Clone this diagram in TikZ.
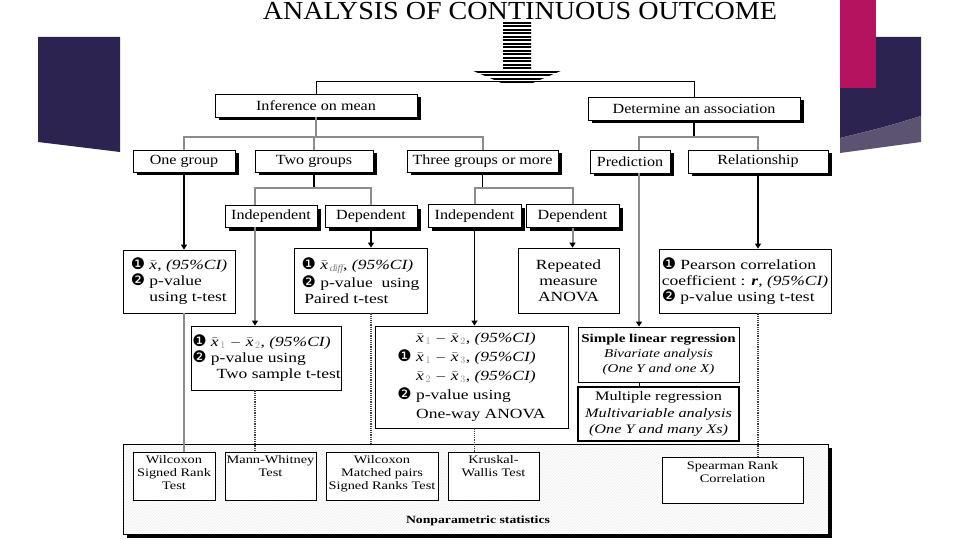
\documentclass[tikz,border=0pt]{standalone}
\usepackage{fontspec}
\setmainfont{Liberation Serif}[FakeStretch=1.25]
\newfontfamily\lblfamily{Liberation Serif}[FakeStretch=1.15]
\newfontfamily\titlefamily{Liberation Serif}[FakeStretch=1.08]
\newfontfamily\dingfamily{DejaVu Sans}
\usepackage{xcolor}
\usetikzlibrary{arrows.meta,positioning,shadows,patterns}

\definecolor{slidedark}{RGB}{45,35,80}
\definecolor{slidemag}{RGB}{181,19,95}
\definecolor{slidelight}{RGB}{92,82,114}

\newcommand\dingA{{\dingfamily\fontsize{16}{16}\selectfont\char"2776}}
\newcommand\dingB{{\dingfamily\fontsize{16}{16}\selectfont\char"2777}}
\newcommand\dind{\hphantom{\dingB\ }}
\newcommand\xb{\ensuremath{\bar{\mbox{\textit{x}}}}}
\newcommand\gsub[1]{\ensuremath{\mkern2mu_{\textcolor{black!45}{#1}}}}
\newcommand\ci{\textit{(95\%CI)}}

\begin{document}
\begin{tikzpicture}[
    x=1pt, y=-1pt,
    lbl/.style={draw, line width=0.8pt, fill=white, inner sep=0pt,
      font=\lblfamily\fontsize{14}{16}\selectfont,
      drop shadow={shadow xshift=3.5pt, shadow yshift=-3.5pt, fill=black, opacity=1}},
    res/.style={draw, line width=0.8pt, fill=white, inner sep=1pt, align=left,
      font=\fontsize{14}{16}\selectfont},
    nbox/.style={draw, line width=0.8pt, fill=white, inner sep=0pt},
    ntext/.style={align=center, inner sep=0pt, font=\fontsize{11.5}{13}\selectfont},
    gline/.style={draw=black!45, line width=2pt},
    bline/.style={draw=black, line width=1.2pt},
    dline/.style={draw=black!75, line width=1.2pt, densely dotted},
    endtip/.style={-{Triangle[width=6pt,length=5pt,color=black]}},
  ]
  \def\stripe{1.8}
  \useasboundingbox (0,0) rectangle (960,540);
  \fill[white] (0,0) rectangle (960,540);

  % ========= SLIDE DECORATION =========
  \fill[slidedark] (38,37) -- (120,37) -- (120,152) -- (38,142) -- cycle;
  \fill[slidedark] (840,37) -- (921,37) -- (921,116) .. controls (885,127) .. (840,138) -- cycle;
  \fill[slidelight] (840,138) .. controls (885,127) .. (921,116) -- (921,142) -- (840,153) -- cycle;
  \fill[slidemag] (840,0) rectangle (876,88);

  % ========= TITLE =========
  \node[font=\titlefamily\fontsize{26}{28}\selectfont, inner sep=0pt] (title) at (520,11.5)
    {ANALYSIS OF CONTINUOUS OUTCOME};

  % ========= LEVEL 1 / 2 =========
  \node[lbl, minimum width=202pt, minimum height=23pt] (inf) at (316,105.5) {Inference on mean};
  \node[lbl, minimum width=212pt, minimum height=23pt] (det) at (694,108.5) {Determine an association};

  \node[lbl, minimum width=102pt, minimum height=22pt] (one) at (184,161) {One group};
  \node[lbl, minimum width=118pt, minimum height=22pt] (two) at (314,161) {Two groups};
  \node[lbl, minimum width=151pt, minimum height=22pt] (three) at (482.5,161) {Three groups or more};
  \node[lbl, minimum width=80pt, minimum height=23pt] (pred) at (630,161.5) {Prediction};
  \node[lbl, minimum width=140pt, minimum height=23pt] (rel) at (758,161.5) {Relationship};

  \node[lbl, minimum width=92pt, minimum height=22pt] (ind2) at (271,216) {Independent};
  \node[lbl, minimum width=92pt, minimum height=22pt] (dep2) at (371,216) {Dependent};
  \node[lbl, minimum width=93pt, minimum height=23pt] (ind3) at (474.5,216) {Independent};
  \node[lbl, minimum width=93pt, minimum height=23pt] (dep3) at (572.5,216) {Dependent};

  % ========= RESULTS =========
  \node[res, minimum width=112pt, minimum height=63pt] (r1) at (179,281.5)
    {\dingA\ \xb, \ci\\\dingB\ p-value\\\dind using t-test};
  \node[res, minimum width=133pt, minimum height=65pt] (r3) at (360.5,280.5)
    {\dingA\ \xb\gsub{\mathit{diff}}, \ci\\[1pt]\dingB\ p-value\ \ using\\\hspace*{0.2em}Paired t-test};
  \node[res, align=center, minimum width=101pt, minimum height=65pt] (r5) at (568.5,280.5)
    {Repeated\\measure\\ANOVA};
  \node[res, minimum width=172pt, minimum height=64pt] (r6) at (745,281)
    {\dingA\ Pearson correlation\\coefficient : \textbf{\textit{r}}, \ci\\\dingB\ p-value using t-test};
  \node[res, minimum width=147pt, minimum height=64pt] (r2) at (266.5,358)
    {\dingA\ \xb\gsub{1} $-$ \xb\gsub{2}, \ci\\\dingB\ p-value using\\\dind\hspace*{0.4em}Two sample t-test};
  \node[res, font=\fontsize{14}{19}\selectfont, minimum width=193pt, minimum height=102pt] (r4) at (471.5,377)
    {\dind\xb\gsub{1} $-$ \xb\gsub{2}, \ci\\\dingA\ \xb\gsub{1} $-$ \xb\gsub{3}, \ci\\
     \dind\xb\gsub{2} $-$ \xb\gsub{3}, \ci\\\dingB\ p-value using\\\dind One-way ANOVA};

  \node[res, align=center, font=\fontsize{12}{15}\selectfont, minimum width=161pt, minimum height=55pt] (slr) at (658.5,354.5)
    {\textbf{Simple linear regression}\\\textit{Bivariate analysis}\\\textit{(One Y and one X)}};
  \node[res, align=center, line width=1.5pt, font=\fontsize{13}{16.5}\selectfont, minimum width=161pt, minimum height=54pt] (mreg) at (658.5,414)
    {Multiple regression\\\textit{Multivariable analysis}\\\textit{(One Y and many Xs)}};

  % ========= NONPARAMETRIC =========
  \node[draw, line width=0.8pt, minimum width=705pt, minimum height=90pt,
    drop shadow={shadow xshift=4pt, shadow yshift=-4pt, fill=black, opacity=1},
    preaction={fill=white}, pattern=north east lines, pattern color=black!8] (np) at (475.5,489) {};
  \node[font=\bfseries\fontsize{11}{13}\selectfont] (nplbl) at (478,521) {Nonparametric statistics};

  \node[nbox, minimum width=82pt, minimum height=48pt] (w1) at (174,476) {};
  \node[ntext, below=4pt of w1.north] (w1t) {Wilcoxon\\Signed Rank\\Test};
  \node[nbox, minimum width=91pt, minimum height=48pt] (mw) at (270.5,476) {};
  \node[ntext, below=4pt of mw.north] (mwt) {Mann-Whitney\\Test};
  \node[nbox, minimum width=112pt, minimum height=48pt] (w2) at (382,476) {};
  \node[ntext, below=4pt of w2.north] (w2t) {Wilcoxon\\Matched pairs\\Signed Ranks Test};
  \node[nbox, minimum width=91pt, minimum height=48pt] (kw) at (493.5,476) {};
  \node[ntext, below=4pt of kw.north] (kwt) {Kruskal-\\Wallis Test};
  \node[nbox, minimum width=141pt, minimum height=46pt] (sp) at (732.5,480) {};
  \node[ntext, below=5pt of sp.north] (spt) {Spearman Rank\\Correlation};

  % ========= CONNECTORS =========
  % Top bar
  \draw[bline, line width=1pt] (inf.north) -- ++(0,-12) -| (det.north);

  % Inference on mean
  \draw[gline] (inf.south) -- ++(0,20) coordinate (jinf);
  \draw[gline] (one.north) |- (jinf) -| (three.north);
  \draw[gline] (two.north) -- (two.north |- jinf);

  \draw[bline] (two.south) -- ++(0,16) coordinate (jtwo);
  \draw[gline] ([xshift=-16pt]ind2.north) |- (jtwo) -| (dep2.north);
  \draw[bline] (three.south) -- ++(0,16) coordinate (jthree);
  \draw[gline] (ind3.north) |- (jthree) -| (dep3.north);

  % Determine an association
  \draw[bline] (det.south) -- ++(0,17) coordinate (jdet);
  \draw[gline] ([xshift=9pt]pred.north) |- (jdet) -| (rel.north);

  % Down to results
  \draw[bline, endtip] (one.south) -- (one.south |- r1.north);
  \draw[gline, endtip] ([xshift=-16pt]ind2.south) -- ([xshift=-16pt]ind2.south |- r2.north);
  \draw[bline, endtip] (dep2.south) -- (dep2.south |- r3.north);
  \draw[bline, line width=1.8pt, endtip] (ind3.south) -- (ind3.south |- r4.north);
  \draw[gline, endtip] (dep3.south) -- (dep3.south |- r5.north);
  \draw[gline, endtip] ([xshift=9pt]pred.south) -- ([xshift=9pt]pred.south |- slr.north);
  \draw[bline, endtip] (rel.south) -- (rel.south |- r6.north);
  \draw[bline, line width=0.6pt] ([xshift=9pt]pred.south |- slr.south) -- ([xshift=9pt]pred.south |- mreg.north);

  % Down to nonparametric
  \draw[gline] (one.south |- r1.south) -- (one.south |- w1.north);
  \draw[dline] ([xshift=-16pt]ind2.south |- r2.south) -- ([xshift=-16pt]ind2.south |- mw.north);
  \draw[dline] (dep2.south |- r3.south) -- (dep2.south |- np.north);
  \draw[dline] (ind3.south |- r4.south) -- (ind3.south |- kw.north);
  \draw[dline] (rel.south |- r6.south) -- (rel.south |- sp.north);

  % Hatched arrow
  \begin{scope}
    \clip (503,22) rectangle (531,70) (471,70) -- (563,70) -- (528,85) -- (506,85) -- cycle;
    \foreach \y in {22,25.5,...,84}
      \fill (465,\y) rectangle (570,\y+\stripe);
  \end{scope}
\end{tikzpicture}
\end{document}
